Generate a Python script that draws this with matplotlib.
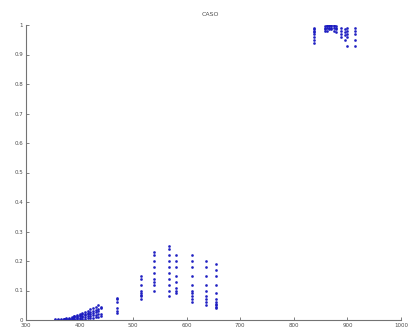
import matplotlib
matplotlib.use("Agg")
import matplotlib.pyplot as plt

uv_wl = [355, 360, 365, 370, 375, 380, 385, 390, 395, 400, 405, 410, 415, 420, 425, 430, 435, 440]
uv_vals = [
    [0.0, 0.002],
    [0.0, 0.003, 0.001],
    [0.001, 0.004, 0.0],
    [0.002, 0.005, 0.0, 0.003],
    [0.002, 0.006, 0.001, 0.004],
    [0.003, 0.008, 0.001, 0.005],
    [0.004, 0.010, 0.002, 0.007],
    [0.005, 0.012, 0.002, 0.009, 0.015],
    [0.006, 0.014, 0.003, 0.010, 0.018],
    [0.008, 0.016, 0.004, 0.012, 0.021],
    [0.009, 0.019, 0.004, 0.014, 0.025],
    [0.011, 0.022, 0.005, 0.016, 0.028],
    [0.012, 0.025, 0.006, 0.019, 0.032],
    [0.014, 0.028, 0.007, 0.021, 0.036],
    [0.016, 0.031, 0.008, 0.024, 0.040],
    [0.018, 0.034, 0.009, 0.027, 0.045],
    [0.020, 0.037, 0.010, 0.030, 0.050],
    [0.022, 0.040, 0.012, 0.045],
]

vis_wl = [470, 515, 538, 567, 580, 610, 636, 655]
vis_vals = [
    [0.025, 0.03, 0.04, 0.06, 0.07, 0.075],
    [0.07, 0.08, 0.085, 0.09, 0.1, 0.12, 0.14, 0.15],
    [0.1, 0.12, 0.13, 0.14, 0.16, 0.18, 0.2, 0.22, 0.23],
    [0.08, 0.1, 0.12, 0.14, 0.16, 0.18, 0.2, 0.22, 0.24, 0.25],
    [0.09, 0.1, 0.11, 0.13, 0.15, 0.18, 0.2, 0.22],
    [0.06, 0.07, 0.08, 0.09, 0.1, 0.12, 0.15, 0.18, 0.2, 0.22],
    [0.05, 0.06, 0.07, 0.08, 0.1, 0.12, 0.15, 0.18, 0.2],
    [0.04, 0.045, 0.05, 0.055, 0.06, 0.07, 0.09, 0.12, 0.15, 0.17, 0.19],
]

nir_wl = [838, 858, 862, 866, 870, 874, 878, 888, 895, 900, 914]
nir_vals = [
    [0.94, 0.95, 0.96, 0.97, 0.975, 0.98, 0.985, 0.99],
    [0.98, 0.985, 0.99, 0.995],
    [0.98, 0.99, 0.995, 1.0],
    [0.985, 0.99, 0.995, 1.0],
    [0.985, 0.99, 0.995, 1.0],
    [0.98, 0.99, 0.995, 1.0],
    [0.975, 0.985, 0.99, 0.995],
    [0.96, 0.97, 0.98, 0.99],
    [0.95, 0.965, 0.975, 0.985],
    [0.93, 0.96, 0.97, 0.98, 0.99],
    [0.93, 0.95, 0.97, 0.98, 0.99],
]

x_ticks = [300, 400, 500, 600, 700, 800, 900, 1000]
y_ticks = [0, 0.1, 0.2, 0.3, 0.4, 0.5, 0.6, 0.7, 0.8, 0.9, 1]
y_labels = ["0", "0.1", "0.2", "0.3", "0.4", "0.5", "0.6", "0.7", "0.8", "0.9", "1"]


def flatten(wls, vals):
    xs, ys = [], []
    for w, vs in zip(wls, vals):
        for v in vs:
            xs.append(w)
            ys.append(v)
    return xs, ys


fig = plt.figure(figsize=(4.12, 3.32), dpi=100)
ax = fig.add_axes([26 / 412, 12 / 332, 375 / 412, 295 / 332])

for wls, vals in [(uv_wl, uv_vals), (vis_wl, vis_vals), (nir_wl, nir_vals)]:
    xs, ys = flatten(wls, vals)
    ax.plot(xs, ys, linestyle="none", marker=".", markersize=2, color="#1a1ac0", alpha=0.85)

ax.set_xlim(300, 1000)
ax.set_ylim(0, 1)
ax.set_xticks(x_ticks)
ax.set_yticks(y_ticks)
ax.set_yticklabels(y_labels)
ax.tick_params(direction="in", length=2, width=0.5, labelsize=4, colors="0.3", pad=2)
for side in ["top", "right"]:
    ax.spines[side].set_visible(False)
for side in ["left", "bottom"]:
    ax.spines[side].set_color("0.45")
    ax.spines[side].set_linewidth(0.8)

fig.text(0.51, 0.955, "CASO", ha="center", va="center", fontsize=4.5, color="0.3")

fig.savefig("out.png", dpi=100)
